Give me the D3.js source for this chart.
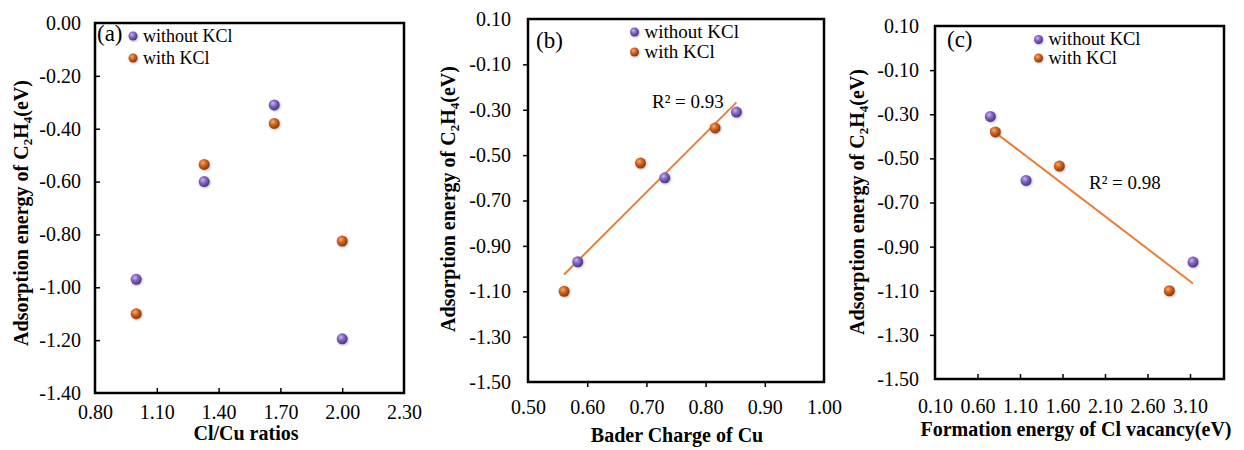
<!DOCTYPE html>
<html>
<head>
<meta charset="utf-8">
<script src="https://cdn.jsdelivr.net/npm/d3@7.9.0/dist/d3.min.js"></script>
<style>
  body { margin: 0; background: #fff; }
  svg { display: block; }
</style>
</head>
<body>
<svg id="chart" width="1244" height="450"></svg>
<script>
// adsorption energies of C2H4 (eV), same order in every panel
const energyWithout = [-0.97, -0.60, -0.31, -1.195];
const energyWith = [-1.10, -0.535, -0.38, -0.825];

// panel (a) Cl/Cu ratios
const ratioWithout = [1.00, 1.33, 1.67, 2.00];
const ratioWith = [1.00, 1.33, 1.67, 2.00];

// panel (b) Bader charge of Cu (first three samples)
const baderWithout = [0.584, 0.731, 0.852];
const baderWith = [0.561, 0.690, 0.816];

// panel (c) formation energy of Cl vacancy (first three samples)
const vacancyWithout = [3.135, 1.171, 0.751];
const vacancyWith = [2.857, 1.563, 0.810];

const xTicksA = [0.80, 1.10, 1.40, 1.70, 2.00, 2.30];
const yTicksA = [0.00, -0.20, -0.40, -0.60, -0.80, -1.00, -1.20, -1.40];
const xTicksB = [0.50, 0.60, 0.70, 0.80, 0.90, 1.00];
const yTicksBC = [0.10, -0.10, -0.30, -0.50, -0.70, -0.90, -1.10, -1.30, -1.50];
const xTicksC = [0.10, 0.60, 1.10, 1.60, 2.10, 2.60, 3.10];

const seriesNames = ['without KCl', 'with KCl'];
const r2Labels = ['R\u00b2 = 0.93', 'R\u00b2 = 0.98'];

const FONT = 'Liberation Serif';
const svg = d3.select('#chart');
const fmt = (d) => d.toFixed(2);

// sphere look for the markers
const defs = svg.append('defs');
function sphere(id, light, mid, dark) {
  const g = defs.append('radialGradient').attr('id', id)
    .attr('cx', '38%').attr('cy', '35%').attr('r', '65%');
  g.append('stop').attr('offset', '0%').attr('stop-color', light);
  g.append('stop').attr('offset', '45%').attr('stop-color', mid);
  g.append('stop').attr('offset', '100%').attr('stop-color', dark);
}
sphere('gPurple', '#c8b6ee', '#8466c2', '#4e3188');
sphere('gOrange', '#f5ad78', '#d1641c', '#8c3805');
const shadow = defs.append('filter').attr('id', 'shadow')
  .attr('x', '-50%').attr('y', '-50%').attr('width', '200%').attr('height', '200%');
shadow.append('feDropShadow').attr('dx', 0.8).attr('dy', 1).attr('stdDeviation', 1)
  .attr('flood-color', '#888').attr('flood-opacity', 0.6);
const fills = ['url(#gPurple)', 'url(#gOrange)'];

function regression(xs, ys) {
  const mx = d3.mean(xs), my = d3.mean(ys);
  const sxy = d3.sum(xs, (x, i) => (x - mx) * (ys[i] - my));
  const sxx = d3.sum(xs, (x) => (x - mx) * (x - mx));
  const slope = sxy / sxx;
  return (x) => my + slope * (x - mx);
}

function drawPanel(p) {
  const x = d3.scaleLinear().domain(p.xDomain).range([p.left, p.right]);
  const y = d3.scaleLinear().domain(p.yDomain).range([p.bottom, p.top]);
  const g = svg.append('g');

  // axes
  const xa = g.append('g')
    .attr('transform', `translate(0,${p.bottom})`)
    .call(d3.axisBottom(x).tickValues(p.xTicks).tickFormat(fmt)
      .tickSizeInner(p.xInside ? -5 : 5).tickSizeOuter(0).tickPadding(p.xPad));
  const ya = g.append('g')
    .attr('transform', `translate(${p.left},0)`)
    .call(d3.axisLeft(y).tickValues(p.yTicks).tickFormat(fmt)
      .tickSizeInner(p.yInside ? -5 : 5).tickSizeOuter(0).tickPadding(p.yPad));
  [xa, ya].forEach((a) => {
    a.select('.domain').remove();
    a.selectAll('.tick text').attr('font-size', 20).attr('fill', '#000');
    a.selectAll('.tick line').attr('stroke', '#000').attr('stroke-width', 1.5);
  });
  // drop ticks that sit on the frame
  g.selectAll('.tick line').filter(function () {
    const t = d3.select(this.parentNode).attr('transform');
    const v = t.match(/translate\(([-\d.]+),([-\d.]+)\)/);
    const px = +v[1], py = +v[2];
    return Math.abs(px - p.left) < 1 || Math.abs(px - p.right) < 1 ||
           Math.abs(py - p.top) < 1 || Math.abs(py - p.bottom) < 1;
  }).remove();

  // frame
  g.append('rect')
    .attr('x', p.left).attr('y', p.top)
    .attr('width', p.right - p.left).attr('height', p.bottom - p.top)
    .attr('fill', 'none').attr('stroke', '#000').attr('stroke-width', 2.5);

  // trendline
  if (p.trend) {
    const xs = p.series[0].xs.concat(p.series[1].xs);
    const ys = p.series[0].ys.concat(p.series[1].ys);
    const f = regression(xs, ys);
    const [x0, x1] = d3.extent(xs);
    g.append('line')
      .attr('x1', x(x0)).attr('y1', y(f(x0)))
      .attr('x2', x(x1)).attr('y2', y(f(x1)))
      .attr('stroke', '#ed7d31').attr('stroke-width', 2);
    g.append('text')
      .attr('x', p.r2Pos[0]).attr('y', p.r2Pos[1])
      .attr('font-size', 19).text(p.r2);
  }

  // points
  p.series.forEach((s, k) => {
    g.append('g').selectAll('circle')
      .data(s.xs.map((v, i) => [v, s.ys[i]]))
      .join('circle')
      .attr('cx', (d) => x(d[0])).attr('cy', (d) => y(d[1]))
      .attr('r', 5.5)
      .attr('fill', fills[k])
      .attr('filter', 'url(#shadow)');
  });

  // legend
  seriesNames.forEach((name, k) => {
    const ly = p.legend.y + k * p.legend.gap;
    g.append('circle')
      .attr('cx', p.legend.x).attr('cy', ly - 5.5).attr('r', 4.5)
      .attr('fill', fills[k]).attr('filter', 'url(#shadow)');
    g.append('text')
      .attr('x', p.legend.x + 10).attr('y', ly)
      .attr('font-size', p.legend.size).text(name);
  });

  // panel letter
  g.append('text')
    .attr('x', p.tag[0]).attr('y', p.tag[1])
    .attr('font-size', 23).text(p.tagText);

  // axis titles
  g.append('text')
    .attr('x', p.xTitle[0]).attr('y', p.xTitle[1])
    .attr('text-anchor', 'middle').attr('font-size', 20).attr('font-weight', 'bold')
    .text(p.xLabel);
  const yt = g.append('text')
    .attr('transform', `translate(${p.yTitle[0]},${p.yTitle[1]}) rotate(-90)`)
    .attr('text-anchor', 'middle').attr('font-size', 20).attr('font-weight', 'bold');
  yt.append('tspan').text('Adsorption energy of C');
  yt.append('tspan').attr('dy', 4).attr('font-size', 13).text('2');
  yt.append('tspan').attr('dy', -4).text('H');
  yt.append('tspan').attr('dy', 4).attr('font-size', 13).text('4');
  yt.append('tspan').attr('dy', -4).text('(eV)');
}

drawPanel({
  left: 95, right: 404, top: 23, bottom: 393,
  xDomain: [0.8, 2.3], yDomain: [-1.4, 0],
  xTicks: xTicksA, yTicks: yTicksA,
  xInside: true, yInside: true, xPad: 12, yPad: 14,
  series: [{ xs: ratioWithout, ys: energyWithout }, { xs: ratioWith, ys: energyWith }],
  legend: { x: 133, y: 41.5, gap: 22, size: 18 },
  tag: [97, 41], tagText: '(a)',
  xLabel: 'Cl/Cu ratios', xTitle: [246, 440],
  yTitle: [28, 213]
});

drawPanel({
  left: 528, right: 824, top: 19, bottom: 382,
  xDomain: [0.5, 1.0], yDomain: [-1.5, 0.1],
  xTicks: xTicksB, yTicks: yTicksBC,
  xInside: false, yInside: false, xPad: 13, yPad: 12,
  series: [
    { xs: baderWithout, ys: energyWithout.slice(0, 3) },
    { xs: baderWith, ys: energyWith.slice(0, 3) }
  ],
  trend: true, r2: r2Labels[0], r2Pos: [652, 108],
  legend: { x: 634.5, y: 37.5, gap: 20, size: 19 },
  tag: [536, 48], tagText: '(b)',
  xLabel: 'Bader Charge of Cu', xTitle: [677, 442],
  yTitle: [455, 199]
});

drawPanel({
  left: 935, right: 1224, top: 26, bottom: 379,
  xDomain: [0.1, 3.5], yDomain: [-1.5, 0.1],
  xTicks: xTicksC, yTicks: yTicksBC,
  xInside: true, yInside: false, xPad: 20, yPad: 11,
  series: [
    { xs: vacancyWithout, ys: energyWithout.slice(0, 3) },
    { xs: vacancyWith, ys: energyWith.slice(0, 3) }
  ],
  trend: true, r2: r2Labels[1], r2Pos: [1089, 189],
  legend: { x: 1038.5, y: 45, gap: 18.5, size: 18.5 },
  tag: [947, 46.5], tagText: '(c)',
  xLabel: 'Formation energy of Cl vacancy(eV)', xTitle: [1076, 436],
  yTitle: [864, 202]
});

// serif everywhere, set on each text node
svg.selectAll('text, tspan').attr('font-family', FONT);
svg.selectAll('g').attr('font-family', FONT);
</script>
</body>
</html>
